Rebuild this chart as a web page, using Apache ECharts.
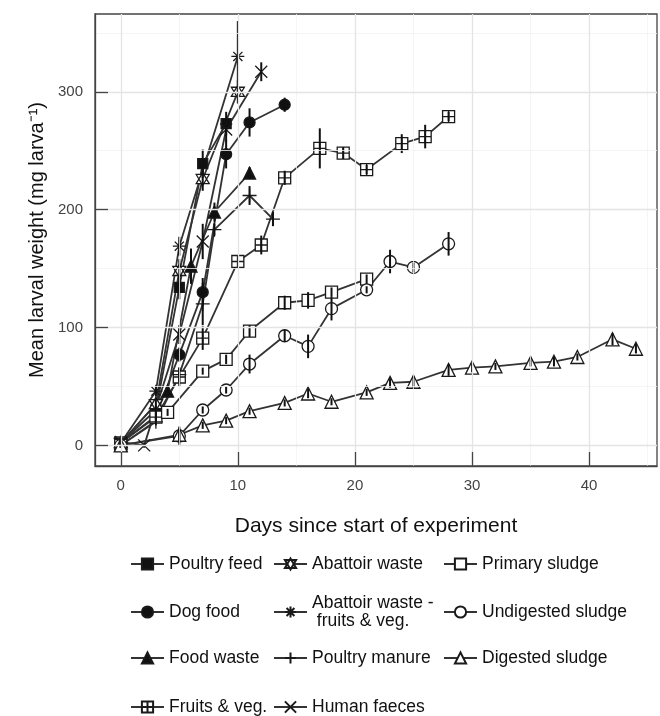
<!DOCTYPE html>
<html>
<head>
<meta charset="utf-8">
<script src="https://cdn.jsdelivr.net/npm/echarts@6/dist/echarts.min.js"></script>
<style>
html,body{margin:0;padding:0;background:#fff;}
#chart{width:660px;height:716px;}
</style>
</head>
<body>
<div id="chart"></div>
<script>
// Each entry: [day, mean weight (mg/larva), error]
const poultryFeed   = [[0,2,2],[3,30,4],[5,134,10],[7,239,12],[9,273,10]];
const dogFood       = [[0,2,2],[3,25,3],[5,77,6],[7,130,12],[9,247,12],[11,274,12],[14,289,6]];
const foodWaste     = [[0,2,2],[4,46,4],[6,152,15],[8,198,8],[11,231,5]];
const fruitsVeg     = [[0,2,2],[3,24,3],[5,58,8],[7,91,10],[10,156,5],[12,170,8],[14,227,6],[17,252,17],[19,248,5],[21,234,4],[24,256,8],[26,262,10],[28,279,4]];
const abattoirWaste = [[0,2,2],[3,35,5],[5,148,10],[7,226,10],[10,300,10]];
const abattoirFV    = [[0,2,2],[3,46,4],[5,169,8],[10,330,30]];
const poultryManure = [[0,0,2],[3,20,3],[5,60,6],[7,120,18],[8,183,5],[11,212,8],[13,192,6]];
const humanFaeces   = [[0,3,2],[2,0,2],[5,94,8],[7,173,15],[9,268,10],[12,317,8]];
const primarySludge = [[0,0,2],[4,28,3],[7,63,3],[9,73,4],[11,97,5],[14,121,6],[16,123,7],[18,130,4],[21,141,4]];
const undigestedSludge = [[0,0,2],[5,8,8],[7,30,3],[9,47,3],[11,69,8],[14,93,5],[16,84,10],[18,116,10],[21,132,3],[23,156,10],[25,151,4],[28,171,10]];
const digestedSludge = [[0,0,2],[5,9,5],[7,17,3],[9,21,3],[11,29,3],[14,36,3],[16,44,4],[18,37,3],[21,45,3],[23,53,4],[25,54,5],[28,64,5],[30,66,4],[32,67,3],[35,70,3],[37,71,4],[39,75,3],[42,90,5],[44,82,4]];

const xTicks = [0,10,20,30,40];
const xMinor = [5,15,25,35,45];
const yTicks = [0,100,200,300];
const yMinor = [50,150,250,350];

const P = {
  hourglass: 'path://M10,0 L20,17 L0,17 Z M10,20 L0,3 L20,3 Z',
  asterisk: 'path://M10,0 L10,20 M0,10 L20,10 M3,3 L17,17 M17,3 L3,17',
  plus: 'path://M10,0 L10,20 M0,10 L20,10',
  cross: 'path://M2,2 L18,18 M18,2 L2,18',
  squarePlus: 'path://M0,0 L20,0 L20,20 L0,20 Z M10,0 L10,20 M0,10 L20,10'
};

const defs = [
  {name:'Poultry feed', data:poultryFeed, symbol:'rect', fill:'#111', size:10},
  {name:'Dog food', data:dogFood, symbol:'circle', fill:'#111', size:11},
  {name:'Food waste', data:foodWaste, symbol:'triangle', fill:'#111', size:12},
  {name:'Fruits & veg.', data:fruitsVeg, symbol:P.squarePlus, fill:'#fff', size:12},
  {name:'Abattoir waste', data:abattoirWaste, symbol:P.hourglass, fill:'#fff', size:13},
  {name:'Abattoir waste - fruits & veg.', data:abattoirFV, symbol:P.asterisk, fill:'#fff', size:13},
  {name:'Poultry manure', data:poultryManure, symbol:P.plus, fill:'#fff', size:14},
  {name:'Human faeces', data:humanFaeces, symbol:P.cross, fill:'#fff', size:12},
  {name:'Primary sludge', data:primarySludge, symbol:'rect', fill:'#fff', size:12},
  {name:'Undigested sludge', data:undigestedSludge, symbol:'circle', fill:'#fff', size:12},
  {name:'Digested sludge', data:digestedSludge, symbol:'triangle', fill:'#fff', size:13}
];

const lineCol = '#333';
const markCol = '#1a1a1a';
const FONT = 'Liberation Sans, Arial, sans-serif';

const series = [];
// grid lines
const gl = [];
xMinor.forEach(v=>gl.push({xAxis:v, lineStyle:{color:'#f2f2f2', width:0.8, type:'solid'}}));
yMinor.forEach(v=>gl.push({yAxis:v, lineStyle:{color:'#f2f2f2', width:0.8, type:'solid'}}));
xTicks.forEach(v=>gl.push({xAxis:v, lineStyle:{color:'#e4e4e4', width:1.3, type:'solid'}}));
yTicks.forEach(v=>gl.push({yAxis:v, lineStyle:{color:'#e4e4e4', width:1.3, type:'solid'}}));
series.push({
  type:'line', name:'_grid', data:[], z:-1, silent:true,
  markLine:{silent:true, symbol:['none','none'], label:{show:false}, animation:false, data:gl}
});

const errData = [];
defs.forEach(d=>{
  d.data.forEach(p=>errData.push([p[0], p[1]-p[2], p[1]+p[2]]));
  series.push({
    type:'line', name:d.name,
    data:d.data.map(p=>[p[0],p[1]]),
    symbol:d.symbol, symbolSize:d.size, showAllSymbol:true,
    lineStyle:{color:lineCol, width:1.8},
    itemStyle:{color:d.fill, borderColor:markCol, borderWidth:1.3},
    emphasis:{disabled:true},
    z:3
  });
});
series.push({
  type:'custom', name:'_err', data:errData, z:4, silent:true,
  encode:{x:0, y:[1,2]},
  renderItem:(params, api)=>{
    const x = api.value(0);
    const a = api.coord([x, api.value(1)]);
    const b = api.coord([x, api.value(2)]);
    return {type:'line', shape:{x1:a[0],y1:a[1],x2:b[0],y2:b[1]}, style:{stroke:'#111', lineWidth:2}};
  }
});

const legendFont = {fontFamily:FONT, fontSize:17.5, color:'#111', lineHeight:18};
const cols = [130, 273, 443];
const rowCenters = [564, 612, 658, 707];
const layout = [
  ['Poultry feed',0,0],['Dog food',0,1],['Food waste',0,2],['Fruits & veg.',0,3],
  ['Abattoir waste',1,0],['Abattoir waste - fruits & veg.',1,1],['Poultry manure',1,2],['Human faeces',1,3],
  ['Primary sludge',2,0],['Undigested sludge',2,1],['Digested sludge',2,2]
];
const legends = layout.map(([n,c,r])=>{
  const two = n==='Abattoir waste - fruits & veg.';
  return {
    data:[n], left:cols[c], top: two ? rowCenters[r]-18 : rowCenters[r]-9,
    itemWidth:33, itemHeight:14, selectedMode:false, padding:0,
    formatter: two ? 'Abattoir waste -\n fruits & veg.' : '{name}',
    textStyle:legendFont
  };
});

const chart = echarts.init(document.getElementById('chart'), null, {renderer:'canvas'});
chart.setOption({
  animation:false,
  backgroundColor:'#fff',
  grid:{left:95, top:14, width:562, height:452, show:true, borderColor:'#444', borderWidth:1.3, backgroundColor:'transparent'},
  legend:legends,
  xAxis:{
    type:'value', min:-2.2, max:45.8, z:10,
    name:'Days since start of experiment', nameLocation:'middle', nameGap:50,
    nameTextStyle:{fontFamily:FONT, fontSize:21, color:'#111'},
    axisLine:{show:true, onZero:false, lineStyle:{color:'#444', width:1.3}},
    axisTick:{show:true, inside:true, length:14, customValues:xTicks, lineStyle:{color:'#444', width:1.3}},
    axisLabel:{customValues:xTicks, margin:12, fontFamily:FONT, fontSize:15, color:'#444'},
    splitLine:{show:false}
  },
  yAxis:{
    type:'value', min:-17.5, max:366, z:10,
    name:'Mean larval weight (mg larva\u207B\u00B9)', nameLocation:'middle', nameGap:40,
    nameTextStyle:{fontFamily:FONT, fontSize:20, color:'#111'},
    axisLine:{show:true, onZero:false, lineStyle:{color:'#444', width:1.3}},
    axisTick:{show:true, inside:true, length:13, customValues:yTicks, lineStyle:{color:'#444', width:1.3}},
    axisLabel:{customValues:yTicks, margin:12, fontFamily:FONT, fontSize:15, color:'#444'},
    splitLine:{show:false}
  },
  series:series
});
</script>
</body>
</html>
